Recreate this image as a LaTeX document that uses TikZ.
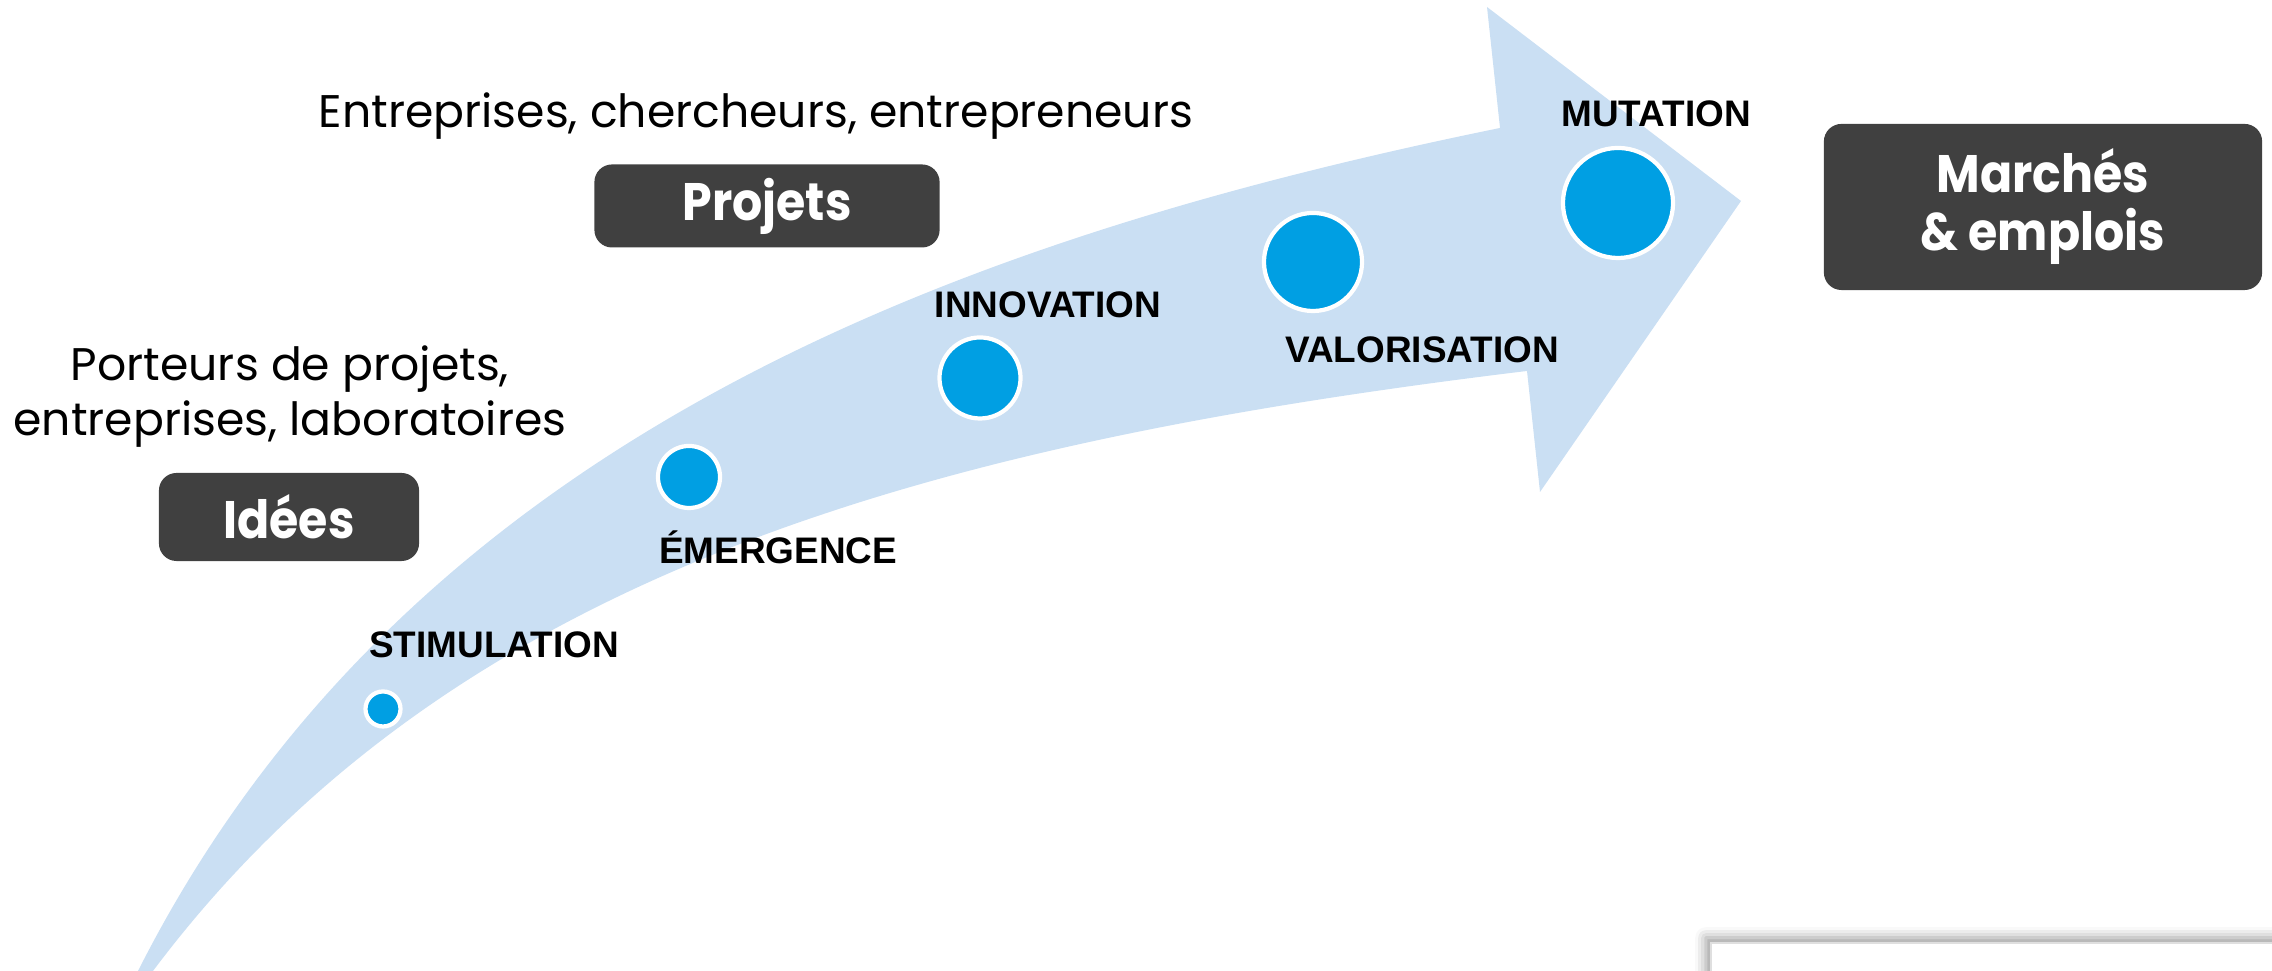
\documentclass[tikz,border=0pt]{standalone}
\usepackage{fontspec}
\setmainfont{Poppins}
\newfontfamily\stagefont{Liberation Sans}
\newfontfamily\boxfont{Poppins}[FakeStretch=0.9]
\usepackage{tikz}
\usetikzlibrary{shadows.blur}
\definecolor{flowblue}{RGB}{202,223,243}
\definecolor{dotblue}{RGB}{0,159,227}
\definecolor{boxgray}{RGB}{64,64,64}
\tikzset{
  stage/.style={circle, fill=dotblue, draw=white, line width=1.2pt, inner sep=0pt},
  stagelabel/.style={anchor=base, inner sep=0pt, font=\stagefont\bfseries\fontsize{10.5}{12}\selectfont},
  actor/.style={align=center, inner sep=0pt, font=\fontsize{13}{15.6}\selectfont},
  result/.style={fill=boxgray, rounded corners=5pt, text=white, align=center, inner sep=0pt,
    font=\boxfont\bfseries\fontsize{15}{16.5}\selectfont}
}
\begin{document}
\begin{tikzpicture}[x=0.01cm, y=0.01cm]
  \useasboundingbox (0,0) rectangle (2272,971);
  \fill[flowblue] (138,0) .. controls (408,534) and (961,733) .. (1500,843)
    -- (1487,964) -- (1741,770) -- (1540,479) -- (1527,600)
    .. controls (933,528) and (453,400) .. (153,0) -- cycle;
  \fill[white, draw=gray!25, blur shadow={shadow xshift=-1.5pt, shadow yshift=1.5pt, shadow blur radius=3pt}]
    (1711,-20) rectangle (2300,28);
  \node[stage, minimum size=0.35cm] (stim) at (383,262) {};
  \node[stage, minimum size=0.62cm] (emerg) at (689,494) {};
  \node[stage, minimum size=0.81cm] (innov) at (980,593) {};
  \node[stage, minimum size=0.98cm] (valor) at (1313,709) {};
  \node[stage, minimum size=1.10cm] (mut) at (1618,768) {};
  \node[stagelabel] (lstim) at (494,313) {STIMULATION};
  \node[stagelabel] (lemerg) at (778,407) {ÉMERGENCE};
  \node[stagelabel] (linnov) at (1048,653) {INNOVATION};
  \node[stagelabel] (lvalor) at (1422,608) {VALORISATION};
  \node[stagelabel] (lmut) at (1656,844) {MUTATION};
  \node[result, minimum width=2.60cm, minimum height=0.88cm] (idees) at (289,454) {Idées};
  \node[result, minimum width=3.45cm, minimum height=0.83cm] (projets) at (767,765) {Projets};
  \node[result, minimum width=4.38cm, minimum height=1.66cm] (marches) at (2043,764) {Marchés\\\& emplois};
  \node[actor] (porteurs) at (290,574) {Porteurs de projets,\\entreprises, laboratoires};
  \node[actor, anchor=base] (chercheurs) at (756,843) {Entreprises, chercheurs, entrepreneurs};
\end{tikzpicture}
\end{document}
